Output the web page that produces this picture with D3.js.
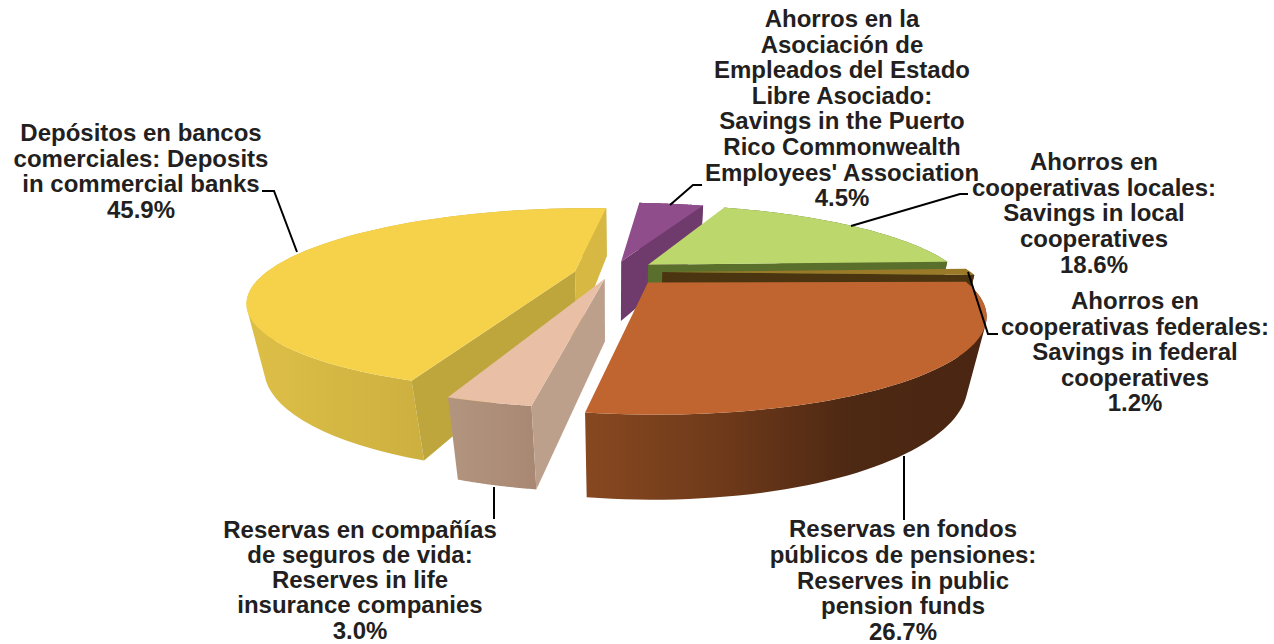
<!DOCTYPE html>
<html>
<head>
<meta charset="utf-8">
<script src="https://cdn.jsdelivr.net/npm/d3@7"></script>
<style>
  html, body { margin: 0; background: #fff; }
  svg { display: block; }
  text { font-family: "Liberation Sans", Arial, sans-serif; font-weight: bold; font-size: 24px; fill: #231f20; text-anchor: middle; }
</style>
</head>
<body>
<svg width="1274" height="644"></svg>
<script>
// slices, clockwise from the top of the pie
const slices = ['purple', 'green', 'federal', 'orange', 'peach', 'yellow']
const values = [4.5, 18.6, 1.2, 26.7, 3.0, 45.9]
const labels = [
  ['Ahorros en la', 'Asociación de', 'Empleados del Estado', 'Libre Asociado:', 'Savings in the Puerto', 'Rico Commonwealth', "Employees' Association", '4.5%'],
  ['Ahorros en', 'cooperativas locales:', 'Savings in local', 'cooperatives', '18.6%'],
  ['Ahorros en', 'cooperativas federales:', 'Savings in federal', 'cooperatives', '1.2%'],
  ['Reservas en fondos', 'públicos de pensiones:', 'Reserves in public', 'pension funds', '26.7%'],
  ['Reservas en compañías', 'de seguros de vida:', 'Reserves in life', 'insurance companies', '3.0%'],
  ['Depósitos en bancos', 'comerciales: Deposits', 'in commercial banks', '45.9%']
]

// how far each slice is pulled out, plus small screen nudges (whole slice, tip only)
const explode = [0.11, 0.11, 0.13, 0.145, 0.07, 0.15]
const nudge = [[-4, -2], [1, -2], [0, 0], [-10, -3], [-12, -1], [2, 0]]
const tipNudge = [[-2, 0], [0, 0], [2, 0], [8, 4], [2, 2], [-2, 2]]

// colours: top face, cut face, wall gradient
const topColors = ['#8f4d8c', '#bcd76c', '#9a7a28', '#c06530', '#e9bfa5', '#f6d24b']
const cutColors = [['#6f3a6c', '#6f3a6c'], ['#5a6f2c', '#5a6f2c'], ['#4a3510', '#4a3510'], ['#4b2713', '#4b2713'], ['#bda08c', '#bda08c'], ['#bea63c', '#d6b843']]
const wallColors = [['#6f3a6c', '#6f3a6c'], ['#5a6f2c', '#5a6f2c'], ['#6d5416', '#6d5416'], ['#874820', '#6f3a1a', '#4d2813', '#4a2612'], ['#b2957f', '#a98873'], ['#ddbf47', '#bba038']]

// label layout: centre x, first line y, line step
const labelPos = [[842, 27, 25.6], [1094, 170, 25.7], [1135, 309, 25.6], [903, 537, 25.8], [360, 537.5, 25.3]]
labelPos.push([141, 141, 25.7])

// leader lines
const leaders = [
  [[702, 185], [693, 185], [670, 205]],
  [[968, 194], [960, 194], [851, 226]],
  [[998, 334], [988, 334], [968, 272]],
  [[904, 456], [904, 520]],
  [[494, 487], [494, 519]],
  [[262, 191], [274, 191], [297, 252]]
]

// perspective of the pie plane
const cx = 620, cy = 272
const k = 310, b = 83, a = 0.33, c = 0.044, d = 64
const rotation = 4.5 * Math.PI / 180

function project(x, y, z) {
  const w = 1 + a * y + c * z
  return [cx + k * x / w, cy - (b * y - d * z) / w]
}

const svg = d3.select('svg')
const defs = svg.append('defs')
const line = d3.line()
const polygon = pts => line(pts) + 'Z'

const pie = d3.pie().sort(null).startAngle(rotation).endAngle(rotation + 2 * Math.PI)
const arcs = pie(values).map((d, i) => {
  const mid = (d.startAngle + d.endAngle) / 2
  return {
    i,
    start: d.startAngle,
    end: d.endAngle,
    ox: explode[i] * Math.sin(mid),
    oy: explode[i] * Math.cos(mid)
  }
})

// point of slice s, at radius r and angle t, on the top (z=0) or bottom (z=1)
const pt = (s, r, t, z) => {
  const p = project(s.ox + r * Math.sin(t), s.oy + r * Math.cos(t), z)
  const tip = r === 0 ? tipNudge[s.i] : [0, 0]
  return [p[0] + nudge[s.i][0] + tip[0], p[1] + nudge[s.i][1] + tip[1]]
}

const cross = (p, q, m) => (q[0] - p[0]) * (m[1] - p[1]) - (q[1] - p[1]) * (m[0] - p[0])

// back slices first
arcs.slice().sort((p, q) => q.oy - p.oy).forEach(s => {
  const g = svg.append('g').attr('class', 'slice ' + slices[s.i])
  const angles = d3.range(0, 61).map(j => s.start + (s.end - s.start) * j / 60)
  const topRim = angles.map(t => pt(s, 1, t, 0))
  const botRim = angles.map(t => pt(s, 1, t, 1))

  // outer wall: one quad per rim step, all wound the same way so they fill as one
  const gradId = 'wall' + s.i
  const grad = defs.append('linearGradient').attr('id', gradId)
  wallColors[s.i].forEach((col, j, all) => {
    grad.append('stop').attr('offset', j / (all.length - 1)).attr('stop-color', col)
  })
  const quads = d3.range(topRim.length - 1).map(j => {
    const quad = [topRim[j], topRim[j + 1], botRim[j + 1], botRim[j]]
    return polygon(d3.polygonArea(quad) < 0 ? quad.reverse() : quad)
  })
  g.append('path')
    .attr('d', quads.join(''))
    .attr('fill', `url(#${gradId})`)

  // cut faces, only when they look at the camera
  const apexTop = pt(s, 0, 0, 0), apexBot = pt(s, 0, 0, 1)
  const midTop = pt(s, 0.6, (s.start + s.end) / 2, 0)
  ;[s.start, s.end].forEach((t, j) => {
    const rt = pt(s, 1, t, 0), rb = pt(s, 1, t, 1)
    const edgeMid = [(apexBot[0] + rb[0]) / 2, (apexBot[1] + rb[1]) / 2]
    if (cross(apexTop, rt, midTop) * cross(apexTop, rt, edgeMid) < 0) {
      g.append('path')
        .attr('d', polygon([apexTop, rt, rb, apexBot]))
        .attr('fill', cutColors[s.i][j])
    }
  })

  // top face
  g.append('path')
    .attr('d', polygon([apexTop].concat(topRim)))
    .attr('fill', topColors[s.i])
})

// leader lines
svg.append('g').selectAll('path')
  .data(leaders)
  .enter()
  .append('path')
  .attr('d', d => line(d))
  .attr('fill', 'none')
  .attr('stroke', '#000')
  .attr('stroke-width', 2)

// labels
labels.forEach((lines, i) => {
  const pos = labelPos[i]
  svg.append('text')
    .selectAll('tspan')
    .data(lines)
    .enter()
    .append('tspan')
    .attr('x', pos[0])
    .attr('y', (d, j) => pos[1] + j * pos[2])
    .text(d => d)
})
</script>
</body>
</html>
